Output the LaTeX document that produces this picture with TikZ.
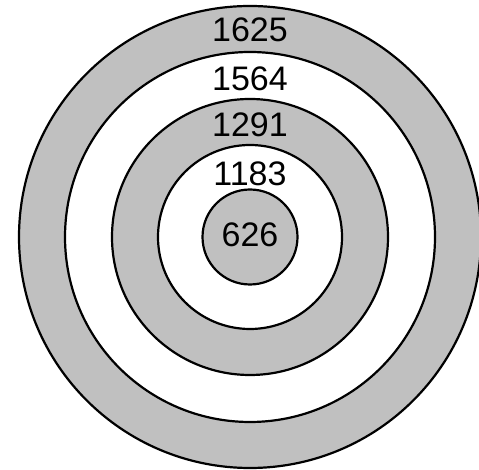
\documentclass[tikz,border=0pt]{standalone}
\usepackage{fontspec}
\setmainfont{Liberation Sans}
\definecolor{ringgray}{HTML}{C0C0C0}
\begin{document}
\begin{tikzpicture}[x=1pt,y=1pt,
  ring/.style={circle,draw=black,line width=2.2pt,inner sep=0pt,minimum size=#1},
  lbl/.style={inner sep=0pt,font=\fontsize{34}{39}\selectfont}]
\useasboundingbox (0,0) rectangle (479,470);
\clip (0,0) rectangle (479,470);
\node[ring=462pt,fill=ringgray] (r1) at (250,233) {};
\node[ring=370pt,fill=white] (r2) at (250,233) {};
\node[ring=276pt,fill=ringgray] (r3) at (250,233) {};
\node[ring=184pt,fill=white] (r4) at (250,233) {};
\node[ring=95pt,fill=ringgray] (r5) at (250,233) {};
\node[lbl] (t1) at (250,440) {1625};
\node[lbl] (t2) at (250,391.5) {1564};
\node[lbl] (t3) at (250,345) {1291};
\node[lbl] (t4) at (250,296) {1183};
\node[lbl] (t5) at (250,235) {626};
\end{tikzpicture}
\end{document}
